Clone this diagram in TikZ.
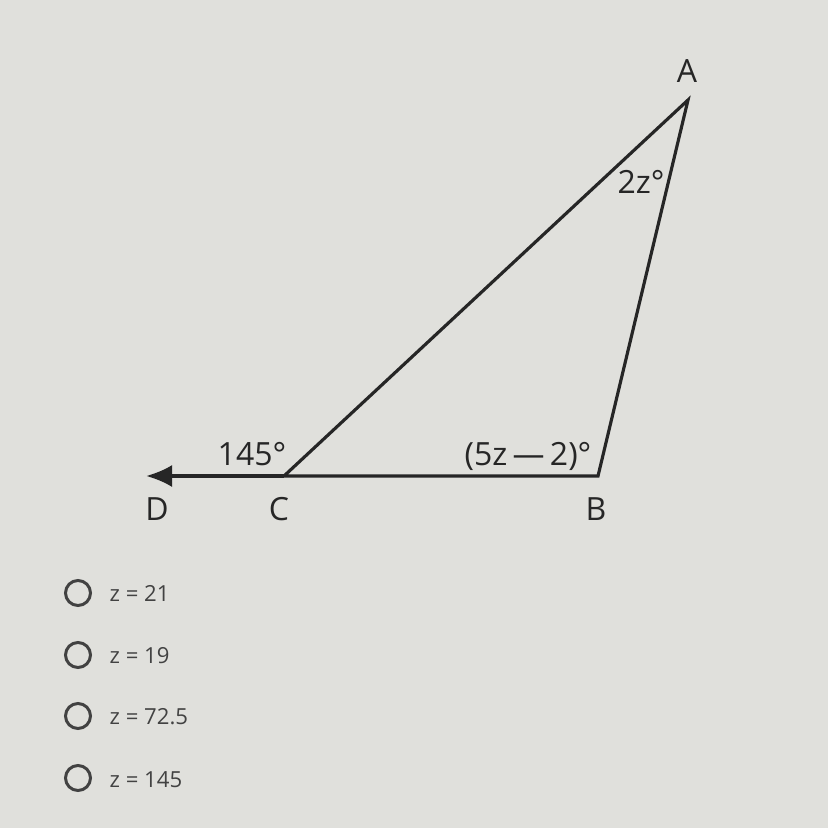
\documentclass[tikz,border=0pt]{standalone}
\usepackage{fontspec}
\setmainfont{Open Sans}
\usetikzlibrary{arrows.meta}
\definecolor{screen}{RGB}{224,224,220}
\definecolor{ink}{RGB}{38,38,38}
\definecolor{optink}{RGB}{66,66,66}
\begin{document}
\begin{tikzpicture}[x=0.1mm,y=-0.1mm,
  lbl/.style={text=ink,font=\fontsize{9.1}{11}\selectfont,inner sep=0pt},
  opt/.style={text=optink,font=\fontsize{6.3}{7}\selectfont,inner sep=0pt,anchor=west},
  radio/.style={draw=optink,line width=0.85pt,circle,minimum size=2.5mm,inner sep=0pt}]
\fill[screen] (0,0) rectangle (828,828);
\useasboundingbox (0,0) rectangle (828,828);
\coordinate (A) at (688,100);
\coordinate (B) at (598,476);
\coordinate (C) at (284,476);
\coordinate (D) at (146,476);
\draw[ink,line width=0.9pt,line join=miter] (A) -- (B) -- (C) -- cycle;
\draw[-{Latex[length=2.6mm,width=2.2mm]},ink,line width=0.9pt] (C) -- (D);
\node[lbl] (lA) at (687,71) {A};
\node[lbl] (lB) at (596,509) {B};
\node[lbl] (lC) at (279,509) {C};
\node[lbl] (lD) at (157,509) {D};
\node[lbl] (aC) at (252,454) {145°};
\node[lbl] (aB) at (528,456) {(5z\,---\,2)°};
\node[lbl] (aA) at (641,182) {2z°};
\node[radio] (r1) at (78,593) {};
\node[radio] (r2) at (78,655) {};
\node[radio] (r3) at (78,716) {};
\node[radio] (r4) at (78,778) {};
\node[opt] (o1) at (109,593) {z = 21};
\node[opt] (o2) at (109,656) {z = 19};
\node[opt] (o3) at (109,717) {z = 72.5};
\node[opt] (o4) at (109,780) {z = 145};
\end{tikzpicture}
\end{document}
